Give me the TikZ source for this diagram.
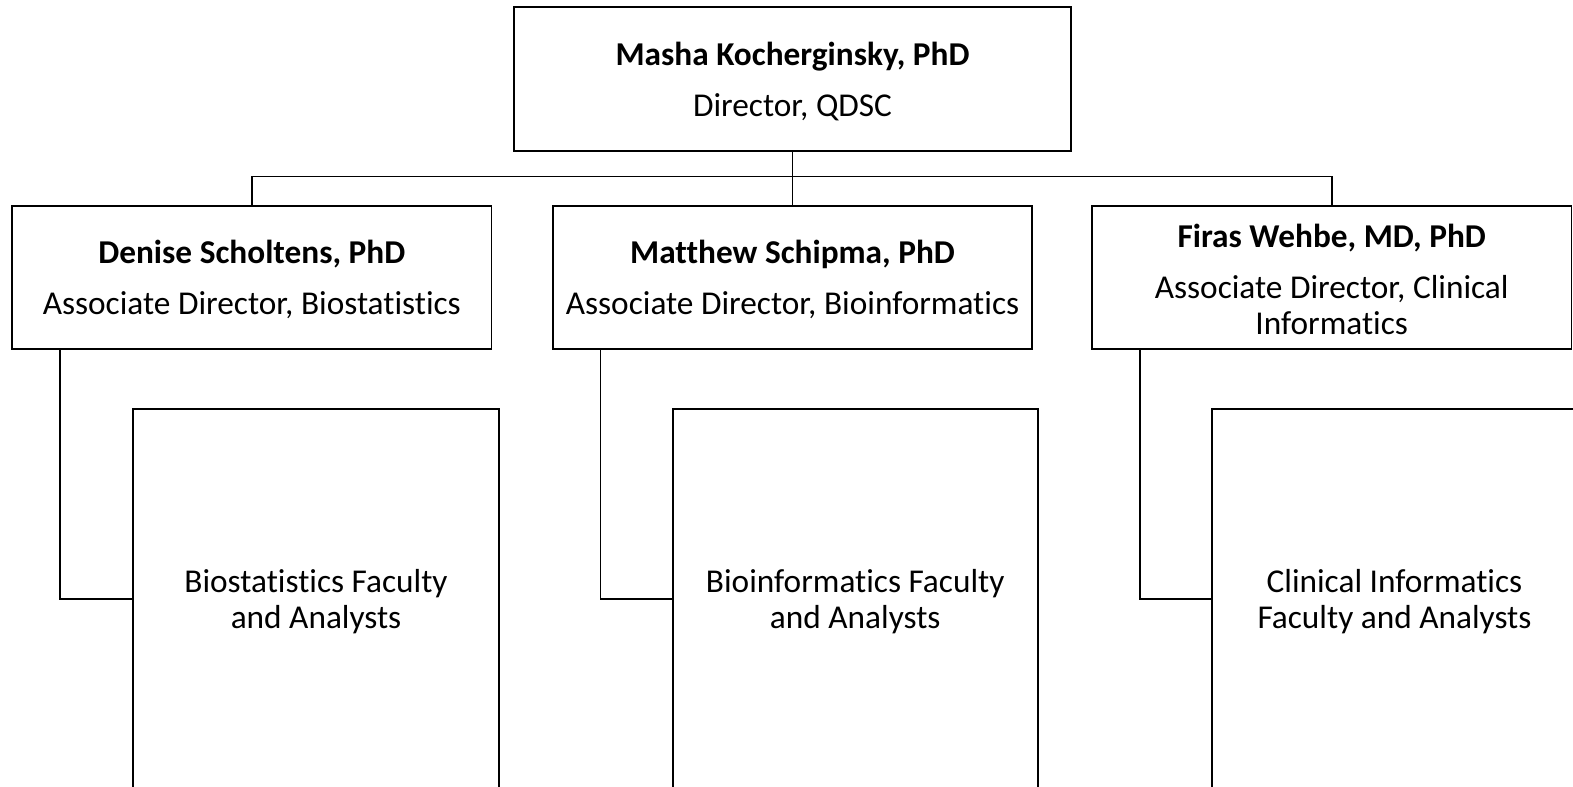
\documentclass[tikz,border=0pt]{standalone}
\usepackage{fontspec}
\setmainfont[Ligatures={NoCommon}]{Carlito}
\begin{document}
\begin{tikzpicture}[x=0.02cm,y=-0.02cm,
  box/.style={draw=black,line width=1.1pt,fill=white,align=center,inner sep=0pt,
    font=\fontsize{18.9}{20.4}\selectfont},
  topbox/.style={box,minimum width=11.12cm,minimum height=2.88cm},
  midbox/.style={box,minimum width=9.56cm,minimum height=2.86cm},
  lowbox/.style={box,minimum width=7.28cm,minimum height=7.56cm},
  link/.style={draw=black,line width=0.95pt}]
\useasboundingbox (0,0) rectangle (1568,784);
\clip (0,0) rectangle (1568,784);
\node[topbox] (dir) at (790,79) {\rule{0pt}{16pt}\textbf{Masha Kocherginsky, PhD}\\[8.5pt]Director, QDSC};
\node[midbox] (bio) at (251,276.5) {\rule{0pt}{16pt}\textbf{Denise Scholtens, PhD}\\[8.5pt]Associate Director, Biostatistics};
\node[midbox] (bif) at (790,276.5) {\rule{0pt}{16pt}\textbf{Matthew Schipma, PhD}\\[8.5pt]Associate Director, Bioinformatics};
\node[midbox] (cli) at (1327.5,276.5) {\rule{0pt}{16pt}\textbf{Firas Wehbe, MD, PhD}\\[8.5pt]Associate Director, Clinical\\Informatics};
\node[lowbox] (biof) at (315,597) {\rule{0pt}{16pt}Biostatistics Faculty\\and Analysts};
\node[lowbox] (biff) at (852.5,597) {\rule{0pt}{16pt}Bioinformatics Faculty\\and Analysts};
\node[lowbox] (clif) at (1390,597) {\rule{0pt}{16pt}Clinical Informatics\\Faculty and Analysts};
\coordinate (hub) at (790,176);
\draw[link] (dir.south) -- (bif.north);
\draw[link] (bio.north) |- (hub) -| (cli.north);
\draw[link] ([xshift=0.97cm]bio.south west) |- (biof.west);
\draw[link] ([xshift=0.97cm]bif.south west) |- (biff.west);
\draw[link] ([xshift=0.97cm]cli.south west) |- (clif.west);
\end{tikzpicture}
\end{document}
